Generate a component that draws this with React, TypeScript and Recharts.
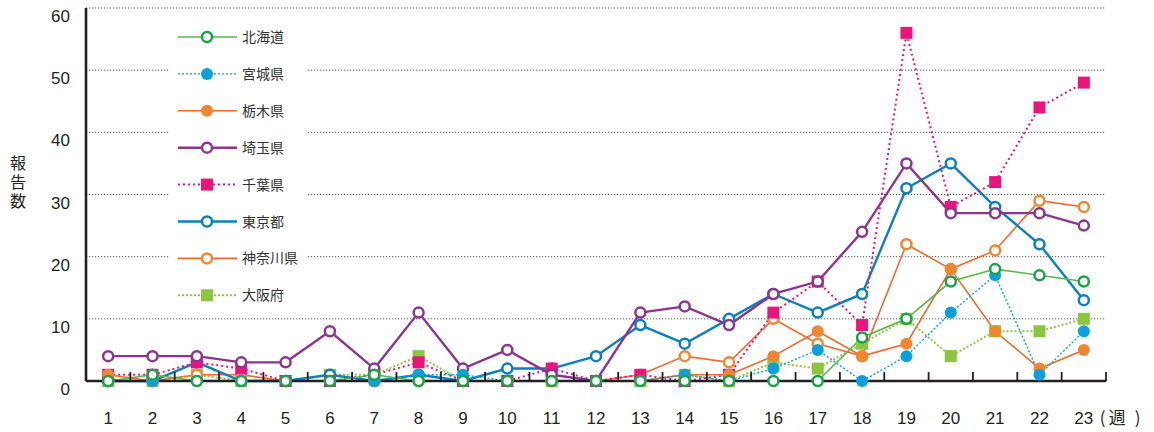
import React from 'react';
import { LineChart, Line, XAxis, YAxis, CartesianGrid, Legend } from 'recharts';

const weeks = [1, 2, 3, 4, 5, 6, 7, 8, 9, 10, 11, 12, 13, 14, 15, 16, 17, 18, 19, 20, 21, 22, 23];
const yTicks = [0, 10, 20, 30, 40, 50, 60];

const hokkaido = [0, 1, 0, 0, 0, 0, 1, 0, 0, 0, 0, 0, 0, 0, 0, 0, 0, 7, 10, 16, 18, 17, 16];
const miyagi = [0, 0, 0, 0, 0, 0, 0, 1, 1, 0, 0, 0, 0, 1, 0, 2, 5, 0, 4, 11, 17, 1, 8];
const tochigi = [1, 0, 0, 0, 0, 0, 0, 0, 0, 0, 0, 0, 0, 1, 1, 4, 8, 4, 6, 18, 8, 2, 5];
const saitama = [4, 4, 4, 3, 3, 8, 2, 11, 2, 5, 1, 0, 11, 12, 9, 14, 16, 24, 35, 27, 27, 27, 25];
const chiba = [1, 1, 3, 2, 0, 0, 1, 3, 0, 0, 2, 0, 1, 0, 1, 11, 16, 9, 56, 28, 32, 44, 48];
const tokyo = [0, 0, 3, 0, 0, 1, 0, 1, 0, 2, 2, 4, 9, 6, 10, 14, 11, 14, 31, 35, 28, 22, 13];
const kanagawa = [0, 0, 1, 1, 0, 0, 0, 0, 0, 0, 0, 0, 1, 4, 3, 10, 6, 4, 22, 18, 21, 29, 28];
const osaka = [0, 0, 1, 0, 0, 1, 1, 4, 0, 0, 0, 0, 0, 1, 0, 3, 2, 6, 10, 4, 8, 8, 10];

// tick positions: every week (label) plus every boundary between weeks (tick mark)
const xTicks = [...weeks.flatMap((w) => [w - 0.5, w]), weeks[weeks.length - 1] + 0.5];

type Shape = 'open' | 'filled' | 'square';
interface SeriesCfg {
  key: string;
  name: string;
  values: number[];
  line: string;
  marker: string;
  width: number;
  dash?: string;
  shape: Shape;
}

const series: SeriesCfg[] = [
  { key: 'hokkaido', name: '北海道', values: hokkaido, line: '#55b848', marker: '#16a44a', width: 1.6, shape: 'open' },
  { key: 'miyagi', name: '宮城県', values: miyagi, line: '#0aa0dc', marker: '#0aa0dc', width: 1.4, dash: '2 2', shape: 'filled' },
  { key: 'tochigi', name: '栃木県', values: tochigi, line: '#ee6a2c', marker: '#f0862f', width: 1.6, shape: 'filled' },
  { key: 'saitama', name: '埼玉県', values: saitama, line: '#8a3592', marker: '#8a3592', width: 2.4, shape: 'open' },
  { key: 'chiba', name: '千葉県', values: chiba, line: '#e9157d', marker: '#e9157d', width: 2, dash: '2 3', shape: 'square' },
  { key: 'tokyo', name: '東京都', values: tokyo, line: '#0a7fc4', marker: '#0a7fc4', width: 2.4, shape: 'open' },
  { key: 'kanagawa', name: '神奈川県', values: kanagawa, line: '#f06a30', marker: '#f2872c', width: 1.6, shape: 'open' },
  { key: 'osaka', name: '大阪府', values: osaka, line: '#8cc63f', marker: '#8cc63f', width: 2, dash: '2 2', shape: 'square' },
];

const data = weeks.map((w, i) => {
  const row: Record<string, number> = { week: w };
  series.forEach((s) => {
    row[s.key] = s.values[i];
  });
  return row;
});

const AXIS = '#231f20';
const NUM_FONT = '"Liberation Sans", Arial, sans-serif';
const JP_FONT = '"Noto Sans CJK JP", "Noto Sans", sans-serif';

function Marker({ shape, x, y, color }: { shape: Shape; x: number; y: number; color: string }) {
  if (shape === 'square') return <rect x={x - 6} y={y - 6} width={12} height={12} fill={color} />;
  if (shape === 'filled') return <circle cx={x} cy={y} r={6} fill={color} />;
  return <circle cx={x} cy={y} r={5} fill="#fff" stroke={color} strokeWidth={2.5} />;
}

const makeDot = (s: SeriesCfg) => (props: any) => {
  const { cx, cy, index } = props;
  if (cx == null || cy == null) return <g key={`${s.key}-${index}`} />;
  return <Marker key={`${s.key}-${index}`} shape={s.shape} x={cx} y={cy} color={s.marker} />;
};

const XTick = (props: any) => {
  const { x, y, payload } = props;
  const v = payload.value as number;
  if (!Number.isInteger(v)) {
    return <line x1={x} x2={x} y1={y} y2={y - 9} stroke={AXIS} strokeWidth={1.8} />;
  }
  const last = v === weeks[weeks.length - 1];
  return (
    <g>
      <text x={x} y={y + 43} textAnchor="middle" fontSize={17} fill={AXIS} fontFamily={NUM_FONT}>
        {v}
      </text>
      {last && (
        <g fontSize={17} fill={AXIS} fontFamily={JP_FONT}>
          <text x={x + 16} y={y + 43}>(</text>
          <text x={x + 25} y={y + 43}>週</text>
          <text x={x + 51} y={y + 43}>)</text>
        </g>
      )}
    </g>
  );
};

const YTick = (props: any) => {
  const { x, y, payload } = props;
  return (
    <text x={x} y={y + 8} dy="0.36em" textAnchor="end" fontSize={17} fill={AXIS} fontFamily={NUM_FONT}>
      {payload.value}
    </text>
  );
};

const YTitle = (props: any) => {
  const vb = props.viewBox || { x: 0, y: 8, width: 86, height: 373 };
  const cx = vb.x + 18;
  const mid = vb.y + vb.height / 2 - 12;
  const chars = ['報', '告', '数'];
  return (
    <text textAnchor="middle" fontSize={16} fill={AXIS} fontFamily={JP_FONT}>
      {chars.map((c, i) => (
        <tspan key={c} x={cx} y={mid + (i - 1) * 19} dy="0.36em">
          {c}
        </tspan>
      ))}
    </text>
  );
};

const LegendBox = () => (
  <svg width={136} height={296} style={{ display: 'block', background: '#fff' }}>
    {series.map((s, i) => {
      const cy = 19 + i * 36.9;
      return (
        <g key={s.key}>
          <line x1={8} x2={67} y1={cy} y2={cy} stroke={s.line} strokeWidth={s.width} strokeDasharray={s.dash} />
          <Marker shape={s.shape} x={37} y={cy} color={s.marker} />
          <text x={72} y={cy} dy="0.36em" fontSize={14} fill="#333" fontFamily={JP_FONT}>
            {s.name}
          </text>
        </g>
      );
    })}
  </svg>
);

export default function App() {
  const drawOrder = [...series].reverse();
  return (
    <div style={{ position: 'absolute', left: 0, top: 0, width: 1154, height: 432, background: '#fff' }}>
      <LineChart width={1154} height={432} data={data} margin={{ top: 8, right: 48, bottom: 0, left: 0 }}>
        <CartesianGrid horizontal vertical={false} stroke="#555" strokeDasharray="1.2 1.8" strokeWidth={1} />
        <XAxis
          dataKey="week"
          type="number"
          domain={[0.5, 23.5]}
          ticks={xTicks}
          interval={0}
          tickLine={false}
          tickSize={0}
          tickMargin={0}
          axisLine={{ stroke: AXIS, strokeWidth: 2.6 }}
          height={51}
          tick={<XTick />}
          allowDataOverflow
        />
        <YAxis
          domain={[0, 60]}
          ticks={yTicks}
          interval={0}
          width={86}
          tickLine={false}
          tickSize={0}
          tickMargin={16}
          axisLine={{ stroke: AXIS, strokeWidth: 2.6 }}
          tick={<YTick />}
          label={(p: any) => <YTitle {...p} />}
        />
        <Legend
          layout="vertical"
          align="center"
          verticalAlign="middle"
          width={136}
          height={296}
          wrapperStyle={{ left: 170, top: 18, width: 136, height: 296 }}
          content={() => <LegendBox />}
        />
        {drawOrder.map((s) => (
          <Line
            key={s.key}
            dataKey={s.key}
            name={s.name}
            type="linear"
            stroke={s.line}
            strokeWidth={s.width}
            strokeDasharray={s.dash}
            dot={makeDot(s)}
            activeDot={false}
            isAnimationActive={false}
          />
        ))}
      </LineChart>
    </div>
  );
}
